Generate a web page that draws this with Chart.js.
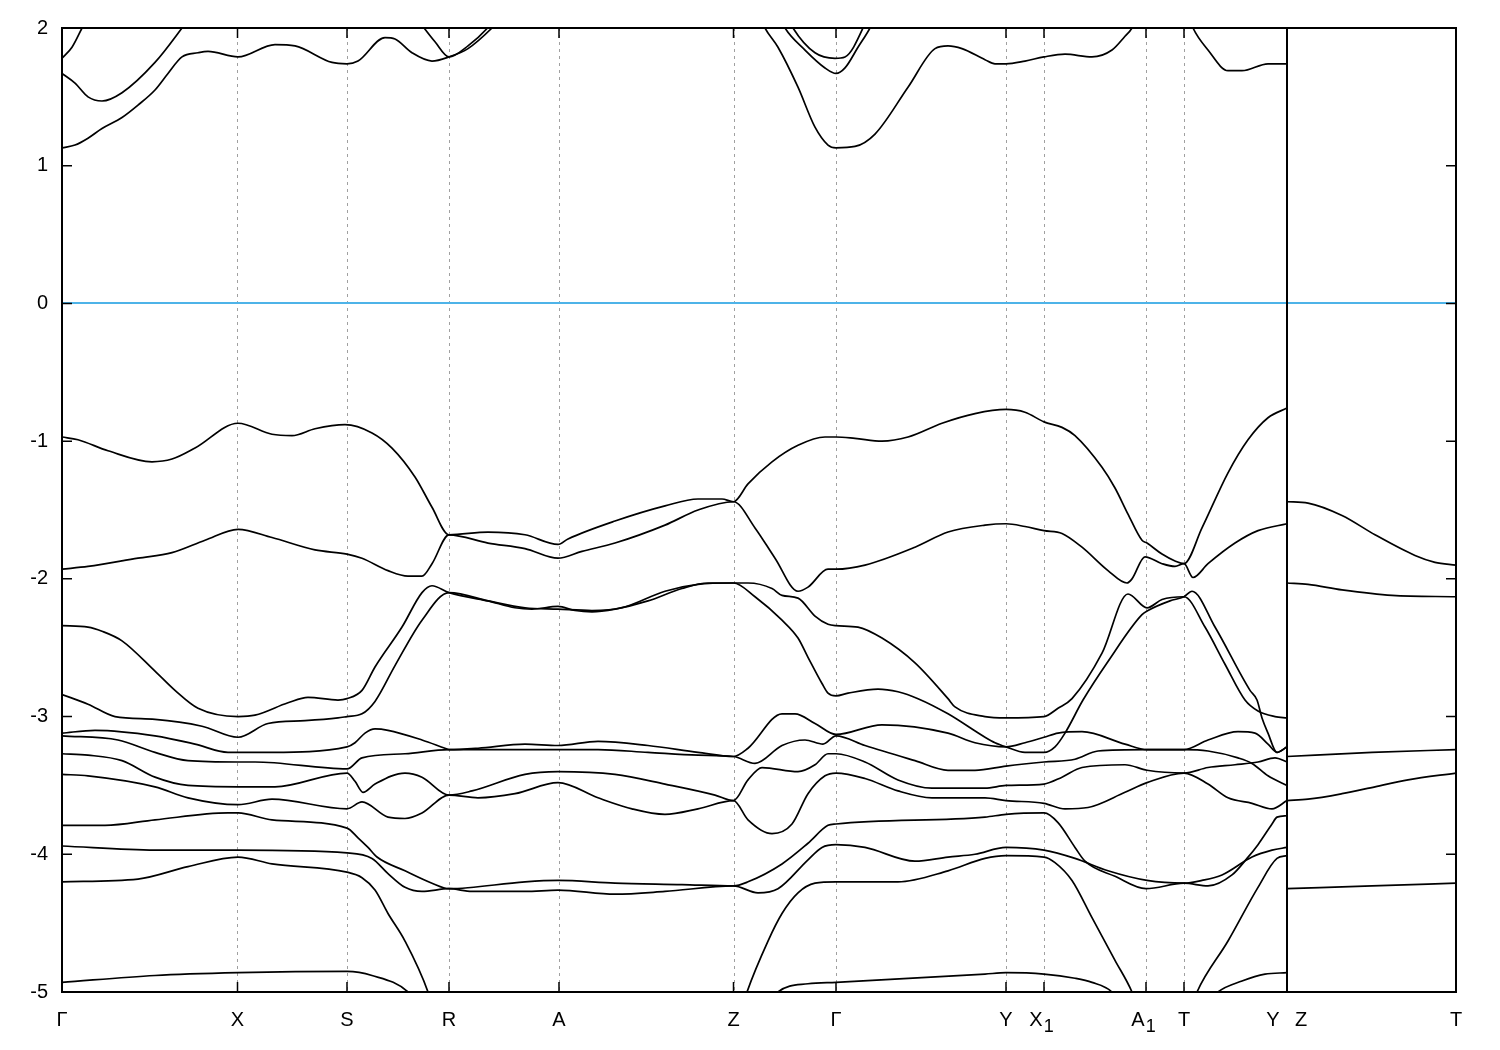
<!DOCTYPE html>
<html>
<head>
<meta charset="utf-8">
<title>Band structure</title>
<script src="https://cdn.jsdelivr.net/npm/chart.js@4.4.1/dist/chart.umd.min.js"></script>
<style>
  html, body { margin: 0; padding: 0; background: #fff; }
  #wrap { width: 1500px; height: 1050px; }
</style>
</head>
<body>
<div id="wrap"><canvas id="bands" width="1500" height="1050"></canvas></div>
<script>
// ===== Path / axis data =====
const kPos = [0, 175.5, 285, 387, 497, 671.5, 774, 944, 982, 1084, 1122, 1225, 1394];
const kLabels = ["Γ", "X", "S", "R", "A", "Z", "Γ", "Y", "X1", "A1", "T", "Y|Z", "T"];
const yTicks = [2, 1, 0, -1, -2, -3, -4, -5];
const eMin = -5, eMax = 2;
const fermiLevel = 0;
const breakPos = 1225; // Y | Z discontinuity

// ===== Conduction bands [k, E] =====
const cond1 = [[0,1.13],[13,1.15],[26,1.20],[40,1.27],[60,1.35],[76,1.44],[93,1.55],[106,1.67],[120,1.79],[136,1.82],[146,1.83],[176,1.79],[213,1.88],[233,1.87],[270,1.75],[285,1.74],[296,1.76],[323,1.93],[333,1.92],[350,1.82],[370,1.76],[387,1.79],[406,1.85],[430,2.0],[440,2.08]];
const cond2 = [[0,1.67],[13,1.60],[26,1.50],[40,1.47],[60,1.53],[93,1.75],[120,2.0],[126,2.06]];
const cond3 = [[0,1.78],[10,1.86],[20,2.0],[24,2.06]];
const cond4 = [[356,2.06],[360,2.02],[373,1.90],[387,1.79],[406,1.87],[428,2.02],[434,2.08]];
const cond5 = [[700,2.05],[703,2.0],[716,1.86],[736,1.57],[753,1.28],[766,1.15],[774,1.13],[793,1.14],[813,1.23],[846,1.57],[873,1.85],[886,1.87],[900,1.85],[923,1.77],[933,1.74],[944,1.74],[963,1.76],[982,1.79],[1003,1.81],[1030,1.79],[1050,1.84],[1063,1.94],[1070,2.0],[1073,2.05]];
const cond6 = [[719,2.06],[723,2.0],[743,1.84],[763,1.71],[774,1.67],[783,1.71],[796,1.86],[808,2.0],[812,2.06]];
const cond7 = [[727,2.06],[731,2.0],[753,1.82],[773,1.78],[783,1.79],[801,2.0],[804,2.06]];
const cond8 = [[1128,2.06],[1131,2.0],[1146,1.84],[1166,1.69],[1180,1.69],[1206,1.74],[1225,1.74]];

// ===== Valence bands [k, E] =====
const val1 = [[0,-0.97],[16,-0.99],[46,-1.07],[90,-1.15],[110,-1.13],[133,-1.05],[176,-0.87],[210,-0.95],[230,-0.96],[253,-0.91],[283,-0.88],[310,-0.94],[330,-1.05],[353,-1.26],[370,-1.48],[387,-1.68],[426,-1.66],[463,-1.68],[496,-1.75],[506,-1.71],[553,-1.58],[603,-1.47],[636,-1.42],[660,-1.42],[671.5,-1.44],[686,-1.31],[710,-1.15],[736,-1.03],[763,-0.97],[774,-0.97],[793,-0.98],[820,-1.00],[846,-0.97],[880,-0.87],[913,-0.80],[944,-0.77],[963,-0.79],[982,-0.86],[1000,-0.90],[1013,-0.96],[1040,-1.19],[1053,-1.34],[1066,-1.53],[1080,-1.72],[1085,-1.74],[1100,-1.82],[1113,-1.87],[1122,-1.89],[1140,-1.63],[1166,-1.23],[1186,-0.99],[1206,-0.83],[1225,-0.76]];
const val2 = [[0,-1.93],[26,-1.91],[76,-1.85],[110,-1.81],[143,-1.72],[176,-1.64],[210,-1.70],[253,-1.79],[285,-1.82],[300,-1.85],[326,-1.94],[346,-1.98],[360,-1.98],[370,-1.89],[387,-1.68],[426,-1.74],[463,-1.78],[496,-1.85],[520,-1.80],[553,-1.74],[603,-1.61],[636,-1.50],[671.5,-1.44],[693,-1.63],[713,-1.85],[736,-2.09],[746,-2.06],[766,-1.93],[774,-1.93],[803,-1.90],[853,-1.77],[886,-1.66],[923,-1.61],[944,-1.60],[963,-1.62],[982,-1.65],[1000,-1.67],[1020,-1.77],[1046,-1.94],[1065,-2.03],[1070,-2.00],[1083,-1.84],[1100,-1.89],[1113,-1.91],[1122,-1.89],[1131,-1.99],[1146,-1.89],[1173,-1.74],[1196,-1.65],[1225,-1.60]];
const val3 = [[0,-2.34],[26,-2.35],[40,-2.38],[60,-2.45],[93,-2.67],[113,-2.81],[136,-2.94],[176,-3.00],[193,-2.99],[226,-2.90],[246,-2.86],[276,-2.88],[285,-2.87],[300,-2.81],[313,-2.64],[340,-2.35],[360,-2.10],[370,-2.05],[387,-2.10],[426,-2.16],[463,-2.21],[496,-2.22],[530,-2.23],[560,-2.21],[603,-2.09],[636,-2.04],[671.5,-2.03],[686,-2.03],[710,-2.07],[720,-2.12],[736,-2.14],[753,-2.27],[766,-2.33],[774,-2.34],[796,-2.35],[820,-2.43],[853,-2.61],[886,-2.87],[893,-2.93],[923,-3.00],[944,-3.01],[982,-3.00],[996,-2.94],[1010,-2.87],[1040,-2.54],[1066,-2.11],[1085,-2.21],[1100,-2.15],[1122,-2.13],[1143,-2.35],[1163,-2.62],[1183,-2.88],[1196,-2.96],[1213,-3.00],[1225,-3.01]];
const val4 = [[0,-2.84],[26,-2.91],[53,-3.00],[93,-3.02],[140,-3.07],[176,-3.15],[206,-3.05],[243,-3.03],[276,-3.01],[285,-3.00],[300,-2.98],[313,-2.89],[333,-2.63],[360,-2.30],[387,-2.10],[426,-2.16],[453,-2.21],[470,-2.22],[496,-2.20],[513,-2.23],[530,-2.24],[553,-2.22],[586,-2.16],[620,-2.07],[646,-2.03],[671.5,-2.03],[693,-2.13],[720,-2.30],[736,-2.43],[746,-2.57],[760,-2.76],[766,-2.83],[774,-2.85],[786,-2.83],[816,-2.80],[836,-2.82],[856,-2.87],[886,-2.98],[923,-3.15],[933,-3.19],[944,-3.22],[963,-3.26],[982,-3.26],[993,-3.22],[1003,-3.12],[1021,-2.88],[1046,-2.60],[1080,-2.26],[1086,-2.23],[1108,-2.16],[1122,-2.13],[1130,-2.09],[1153,-2.35],[1188,-2.81],[1195,-2.88],[1200,-3.01],[1206,-3.12],[1215,-3.26],[1225,-3.22]];
const val5 = [[0,-3.12],[33,-3.10],[93,-3.14],[133,-3.20],[166,-3.26],[176,-3.26],[210,-3.26],[285,-3.22],[293,-3.19],[303,-3.12],[313,-3.09],[326,-3.10],[360,-3.17],[383,-3.23],[387,-3.24],[416,-3.23],[463,-3.20],[496,-3.21],[536,-3.18],[586,-3.21],[636,-3.26],[671.5,-3.29],[686,-3.23],[720,-2.98],[733,-2.98],[753,-3.05],[774,-3.13],[820,-3.06],[886,-3.12],[913,-3.19],[944,-3.22],[963,-3.19],[982,-3.15],[996,-3.12],[1020,-3.11],[1063,-3.20],[1085,-3.24],[1122,-3.24],[1146,-3.17],[1176,-3.11],[1193,-3.12],[1206,-3.20],[1215,-3.26],[1225,-3.22]];
const val6 = [[0,-3.14],[56,-3.17],[93,-3.26],[126,-3.32],[176,-3.33],[193,-3.33],[285,-3.38],[300,-3.30],[343,-3.27],[387,-3.24],[453,-3.24],[496,-3.24],[536,-3.24],[586,-3.26],[636,-3.28],[671.5,-3.29],[693,-3.34],[720,-3.21],[743,-3.17],[761,-3.20],[774,-3.14],[803,-3.21],[853,-3.32],[886,-3.39],[913,-3.39],[944,-3.36],[982,-3.33],[1013,-3.31],[1036,-3.25],[1085,-3.24],[1122,-3.24],[1146,-3.25],[1176,-3.30],[1190,-3.34],[1206,-3.43],[1225,-3.50]];
const val7 = [[0,-3.27],[26,-3.28],[60,-3.32],[93,-3.44],[126,-3.50],[176,-3.51],[213,-3.51],[285,-3.41],[293,-3.47],[301,-3.55],[313,-3.49],[343,-3.41],[360,-3.44],[387,-3.57],[410,-3.54],[463,-3.42],[496,-3.40],[553,-3.42],[603,-3.49],[653,-3.57],[671.5,-3.61],[686,-3.46],[700,-3.37],[736,-3.40],[753,-3.35],[766,-3.27],[774,-3.27],[803,-3.33],[836,-3.46],[870,-3.52],[923,-3.52],[944,-3.50],[982,-3.49],[1000,-3.44],[1020,-3.37],[1063,-3.35],[1085,-3.39],[1122,-3.41],[1146,-3.37],[1173,-3.35],[1196,-3.33],[1213,-3.30],[1225,-3.33]];
const val8 = [[0,-3.42],[26,-3.43],[93,-3.51],[126,-3.59],[176,-3.64],[210,-3.60],[285,-3.67],[300,-3.62],[326,-3.73],[343,-3.74],[360,-3.70],[387,-3.57],[416,-3.59],[453,-3.56],[496,-3.48],[536,-3.59],[570,-3.67],[603,-3.71],[636,-3.67],[671.5,-3.61],[686,-3.75],[710,-3.85],[730,-3.78],[746,-3.56],[763,-3.43],[774,-3.41],[803,-3.45],[836,-3.54],[870,-3.59],[923,-3.59],[944,-3.61],[982,-3.63],[1003,-3.67],[1026,-3.66],[1063,-3.55],[1085,-3.48],[1122,-3.41],[1146,-3.49],[1166,-3.59],[1190,-3.63],[1210,-3.67],[1225,-3.61]];
const val9 = [[0,-3.79],[43,-3.79],[93,-3.75],[166,-3.70],[176,-3.70],[210,-3.75],[285,-3.81],[296,-3.88],[306,-3.95],[315,-4.02],[343,-4.12],[370,-4.21],[387,-4.25],[463,-4.20],[496,-4.19],[553,-4.21],[620,-4.22],[671.5,-4.23],[686,-4.20],[720,-4.07],[746,-3.92],[766,-3.79],[774,-3.78],[923,-3.73],[944,-3.71],[982,-3.70],[996,-3.77],[1013,-3.95],[1023,-4.05],[1053,-4.16],[1084,-4.25],[1122,-4.21],[1146,-4.23],[1170,-4.15],[1185,-4.03],[1196,-3.93],[1210,-3.78],[1215,-3.73],[1225,-3.72]];
const val10 = [[0,-3.94],[93,-3.97],[176,-3.97],[285,-3.99],[310,-4.03],[326,-4.14],[343,-4.24],[360,-4.27],[387,-4.25],[410,-4.27],[463,-4.27],[496,-4.26],[553,-4.29],[603,-4.27],[671.5,-4.23],[696,-4.28],[716,-4.25],[746,-4.04],[760,-3.95],[774,-3.93],[803,-3.95],[853,-4.05],[886,-4.02],[913,-4.00],[944,-3.95],[982,-3.97],[1013,-4.03],[1046,-4.12],[1085,-4.19],[1122,-4.21],[1140,-4.19],[1160,-4.15],[1190,-4.02],[1210,-3.97],[1225,-3.95]];
const val11 = [[0,-4.20],[76,-4.18],[126,-4.09],[176,-4.02],[210,-4.07],[285,-4.13],[300,-4.17],[313,-4.26],[326,-4.43],[343,-4.63],[366,-5.0],[372,-5.15]];
const val12 = [[680,-5.12],[685,-5.0],[706,-4.63],[720,-4.43],[736,-4.28],[753,-4.21],[774,-4.20],[836,-4.20],[886,-4.12],[923,-4.03],[944,-4.01],[982,-4.02],[993,-4.06],[1010,-4.19],[1030,-4.46],[1053,-4.77],[1070,-5.0],[1075,-5.1]];
const val13 = [[1130,-5.1],[1135,-5.0],[1166,-4.63],[1196,-4.24],[1215,-4.03],[1225,-4.01]];
const val15 = [[0,-4.93],[93,-4.88],[176,-4.86],[285,-4.85],[310,-4.88],[346,-5.0],[352,-5.06]];
const val16 = [[710,-5.06],[716,-5.0],[746,-4.94],[774,-4.93],[923,-4.87],[944,-4.86],[982,-4.87],[1013,-4.90],[1030,-4.93],[1050,-5.0],[1055,-5.05]];
const val17 = [[1150,-5.05],[1156,-5.0],[1180,-4.92],[1203,-4.87],[1225,-4.86]];

// ===== Z - T segment =====
const zt1 = [[1225,-1.44],[1246,-1.45],[1280,-1.54],[1313,-1.68],[1353,-1.83],[1373,-1.88],[1394,-1.90]];
const zt2 = [[1225,-2.03],[1246,-2.04],[1280,-2.08],[1330,-2.12],[1394,-2.13]];
const zt3 = [[1225,-3.29],[1310,-3.26],[1394,-3.24]];
const zt4 = [[1225,-3.61],[1246,-3.60],[1280,-3.56],[1313,-3.51],[1346,-3.46],[1394,-3.41]];
const zt5 = [[1225,-4.25],[1310,-4.23],[1394,-4.21]];

const bands = [cond1, cond2, cond3, cond4, cond5, cond6, cond7, cond8,
  val1, val2, val3, val4, val5, val6, val7, val8, val9, val10, val11, val12,
  val13, val15, val16, val17, zt1, zt2, zt3, zt4, zt5];

// ===== Frame, grid, ticks and labels =====
const FONT = '"Liberation Sans", Arial, sans-serif';

const framePlugin = {
  id: "bandFrame",
  beforeDatasetsDraw(chart) {
    const { ctx, chartArea: a, scales: { x, y } } = chart;
    ctx.save();
    // dotted lines at the high-symmetry points
    ctx.strokeStyle = "#a0a0a0";
    ctx.lineWidth = 1;
    ctx.setLineDash([3, 4]);
    kPos.forEach((k, i) => {
      if (i === 0 || i === kPos.length - 1 || k === breakPos) return;
      const px = Math.round(x.getPixelForValue(k)) + 0.5;
      ctx.beginPath();
      ctx.moveTo(px, a.top);
      ctx.lineTo(px, a.bottom);
      ctx.stroke();
    });
    ctx.setLineDash([]);
    // Fermi level
    const py0 = Math.round(y.getPixelForValue(fermiLevel));
    ctx.strokeStyle = "#4eb3e8";
    ctx.lineWidth = 2;
    ctx.beginPath();
    ctx.moveTo(a.left, py0);
    ctx.lineTo(a.right, py0);
    ctx.stroke();
    ctx.restore();
  },
  afterDatasetsDraw(chart) {
    const { ctx, chartArea: a, scales: { x, y } } = chart;
    ctx.save();
    ctx.strokeStyle = "#000";
    ctx.lineWidth = 2;
    ctx.strokeRect(a.left, a.top, a.right - a.left, a.bottom - a.top);

    // Y|Z break
    const pb = x.getPixelForValue(breakPos);
    ctx.beginPath();
    ctx.moveTo(pb, a.top);
    ctx.lineTo(pb, a.bottom);
    ctx.stroke();

    // inward ticks
    ctx.lineWidth = 1.5;
    const tl = 10;
    yTicks.forEach(v => {
      const py = y.getPixelForValue(v);
      ctx.beginPath();
      ctx.moveTo(a.left, py); ctx.lineTo(a.left + tl, py);
      ctx.moveTo(a.right, py); ctx.lineTo(a.right - tl, py);
      ctx.stroke();
    });
    kPos.forEach(k => {
      const px = x.getPixelForValue(k);
      ctx.beginPath();
      ctx.moveTo(px, a.bottom); ctx.lineTo(px, a.bottom - tl);
      ctx.moveTo(px, a.top); ctx.lineTo(px, a.top + tl);
      ctx.stroke();
    });

    // y labels
    ctx.fillStyle = "#000";
    ctx.font = "20px " + FONT;
    ctx.textAlign = "right";
    ctx.textBaseline = "middle";
    yTicks.forEach(v => ctx.fillText(String(v), a.left - 14, y.getPixelForValue(v)));

    // k labels
    const ly = a.bottom + 28;
    kLabels.forEach((lab, i) => {
      const px = x.getPixelForValue(kPos[i]);
      ctx.font = "20px " + FONT;
      ctx.textBaseline = "middle";
      if (lab === "Y|Z") {
        ctx.textAlign = "center";
        ctx.fillText("Y", px - 14, ly);
        ctx.fillText("Z", px + 14, ly);
      } else if (lab.length === 2) {
        const main = lab[0], sub = lab[1];
        const wm = ctx.measureText(main).width;
        ctx.font = "18px " + FONT;
        const ws = ctx.measureText(sub).width;
        const start = px - (wm + ws) / 2 - 3;
        ctx.textAlign = "left";
        ctx.font = "20px " + FONT;
        ctx.fillText(main, start, ly);
        ctx.font = "18px " + FONT;
        ctx.fillText(sub, start + wm + 1, ly + 7);
      } else {
        ctx.textAlign = "center";
        ctx.fillText(lab, px, ly);
      }
    });
    ctx.restore();
  }
};

// ===== Chart =====
const ctx = document.getElementById("bands").getContext("2d");
new Chart(ctx, {
  type: "scatter",
  data: {
    datasets: bands.map(b => ({
      data: b.map(p => ({ x: p[0], y: p[1] })),
      showLine: true,
      borderColor: "#000",
      borderWidth: 1.7,
      pointRadius: 0,
      pointHoverRadius: 0,
      cubicInterpolationMode: "monotone",
      fill: false
    }))
  },
  options: {
    responsive: false,
    animation: false,
    devicePixelRatio: 1,
    layout: { padding: { left: 62, right: 44, top: 28, bottom: 58 } },
    plugins: { legend: { display: false }, tooltip: { enabled: false } },
    scales: {
      x: { type: "linear", min: kPos[0], max: kPos[kPos.length - 1], display: false },
      y: { min: eMin, max: eMax, display: false }
    }
  },
  plugins: [framePlugin]
});
</script>
</body>
</html>
